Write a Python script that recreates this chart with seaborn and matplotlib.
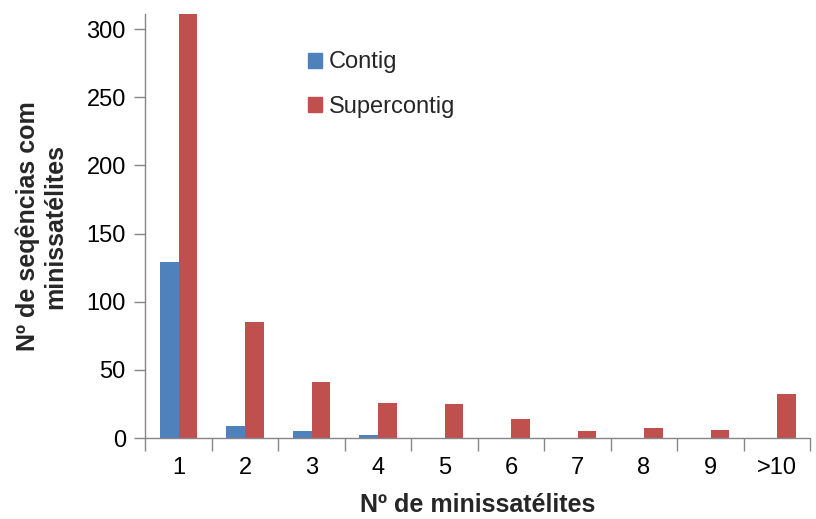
import matplotlib.pyplot as plt
import matplotlib.patches as mpatches
import numpy as np
import pandas as pd
import seaborn as sns
from matplotlib.ticker import FixedLocator

categories = ['1', '2', '3', '4', '5', '6', '7', '8', '9', '>10']
contig = [129, 9, 5, 2, 0, 0, 0, 0, 0, 0]
supercontig = [311, 85, 41, 26, 25, 14, 5, 7, 6, 32]
series = ['Contig', 'Supercontig']
colors = ['#4F81BD', '#C0504D']

sns.set_style('white')
plt.rcParams['font.family'] = ['Liberation Sans', 'DejaVu Sans']

df = pd.DataFrame({
    'cat': categories * 2,
    'value': contig + supercontig,
    'serie': [series[0]] * len(categories) + [series[1]] * len(categories),
})

fig, ax = plt.subplots(figsize=(8.16, 5.19), dpi=100)
fig.subplots_adjust(left=0.178, right=0.993, top=0.973, bottom=0.156)

sns.barplot(data=df, x='cat', y='value', hue='serie', order=categories,
            hue_order=series, palette=colors, saturation=1, width=0.57,
            edgecolor='none', ax=ax)

ax.set_ylim(0, 311)
ax.set_xlim(-0.5, len(categories) - 0.5)
ax.set_yticks(range(0, 301, 50))

# excel style: tick marks between categories
ax.xaxis.set_minor_locator(FixedLocator(np.arange(-0.5, len(categories), 1)))
ax.tick_params(axis='x', which='major', length=0, labelsize=17, pad=14, colors='black')
ax.tick_params(axis='x', which='minor', length=9, width=1, color='#868686', bottom=True)
ax.tick_params(axis='y', which='major', length=8, width=1, color='#868686', labelsize=17,
               left=True, labelcolor='black', pad=6)

sns.despine(ax=ax)
for s in ['left', 'bottom']:
    ax.spines[s].set_color('#868686')
    ax.spines[s].set_linewidth(1)

ax.set_xlabel('Nº de minissatélites', fontsize=18, fontweight='bold', labelpad=10)
ax.set_ylabel('Nº de seqências com\nminissatélites', fontsize=18, fontweight='bold',
              labelpad=14, linespacing=1.15)

handles = [mpatches.Patch(color=c, label=l) for c, l in zip(colors, series)]
ax.legend(handles=handles, loc='upper left', bbox_to_anchor=(0.244, 0.912), frameon=False,
          fontsize=17, handlelength=0.6, handleheight=0.6, handletextpad=0.3,
          labelspacing=0.95, borderpad=0, borderaxespad=0)

plt.savefig('out.png', dpi=100)
